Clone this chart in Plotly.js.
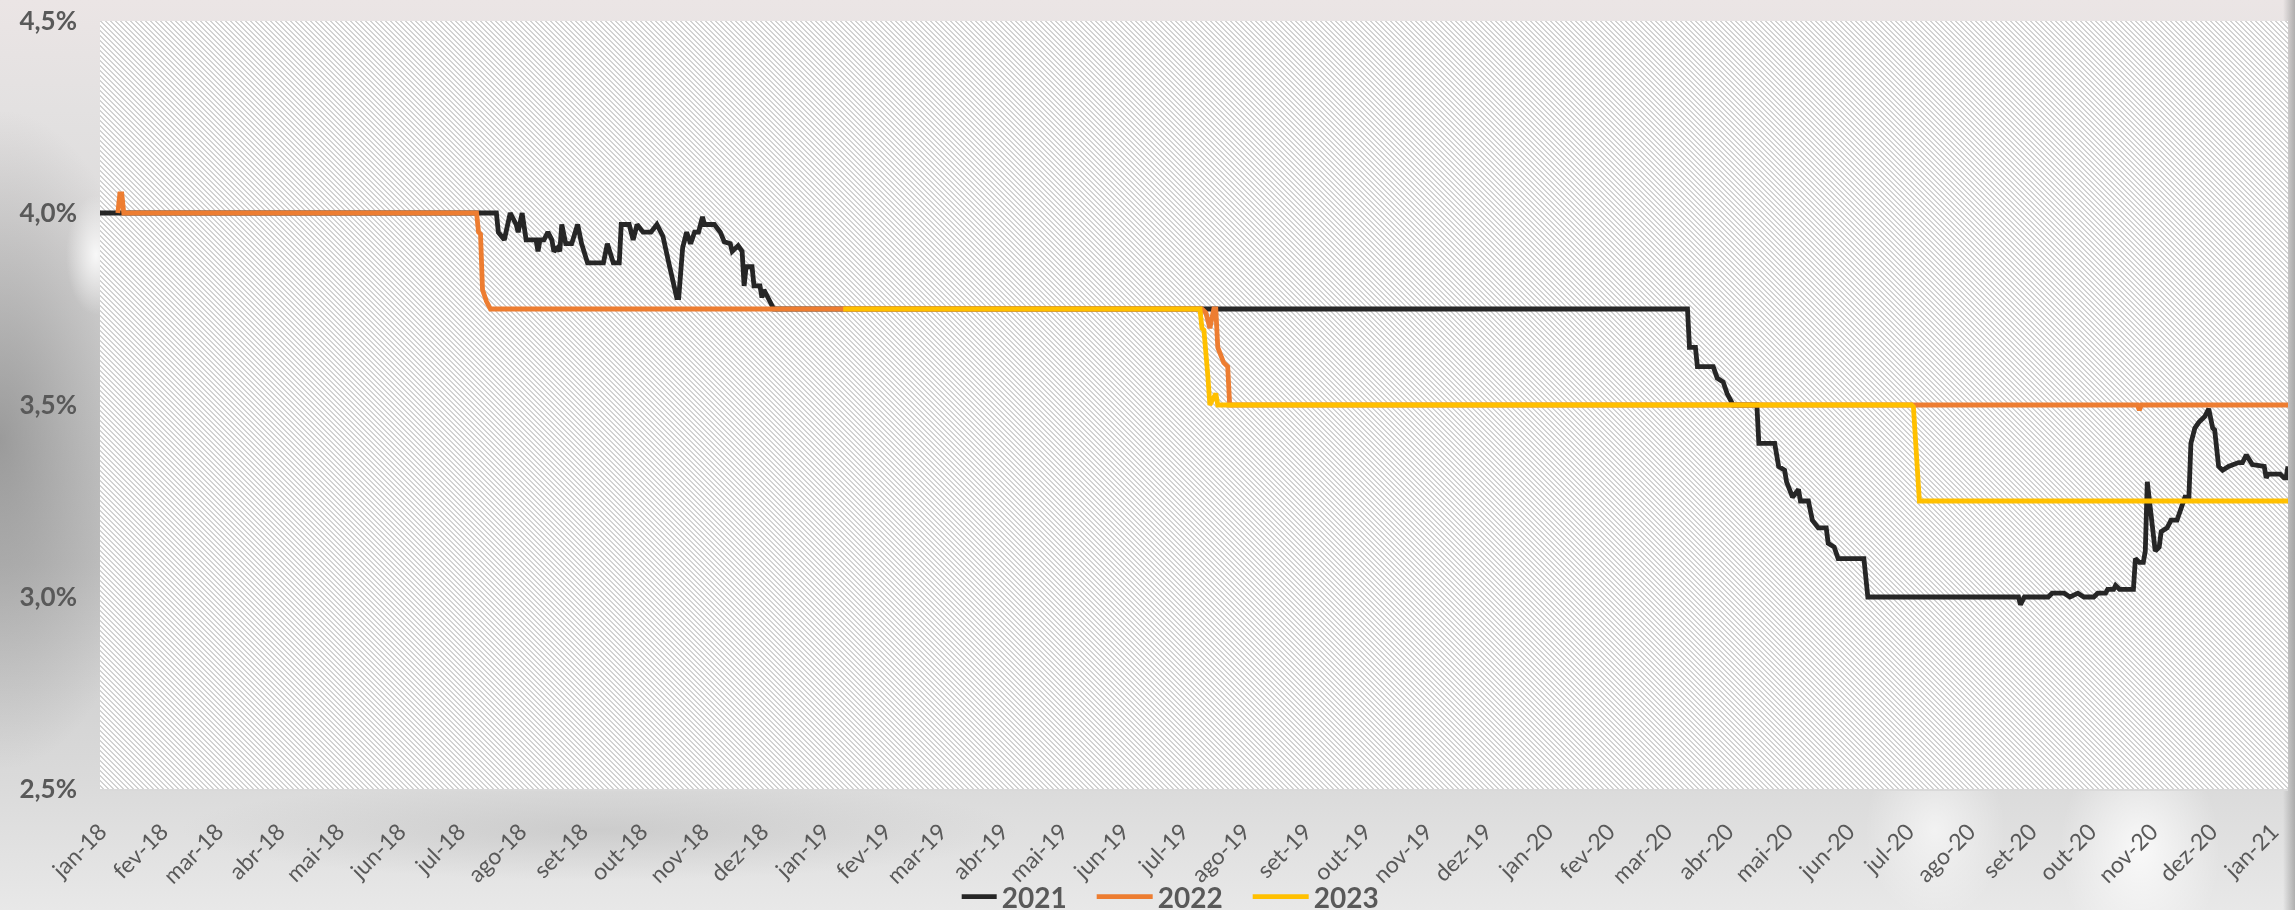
<!DOCTYPE html>
<html>
<head>
<meta charset="utf-8">
<script src="https://cdn.plot.ly/plotly-3.0.1.min.js"></script>
<style>
  html, body { margin:0; padding:0; }
  #wrap {
    position: relative; width: 2295px; height: 910px; overflow: hidden;
    background:
      radial-gradient(ellipse 30px 60px at 96px 255px, rgba(255,255,255,0.85), rgba(255,255,255,0) 100%),
      radial-gradient(ellipse 160px 330px at 0px 440px, rgba(110,110,110,0.55), rgba(110,110,110,0) 100%),
      radial-gradient(ellipse 420px 50px at 600px 830px, rgba(160,160,160,0.3), rgba(160,160,160,0) 100%),
      radial-gradient(ellipse 80px 110px at 2140px 850px, rgba(255,255,255,0.8), rgba(255,255,255,0) 100%),
      radial-gradient(ellipse 70px 90px at 1935px 830px, rgba(255,255,255,0.6), rgba(255,255,255,0) 100%),
      linear-gradient(to left, rgba(150,150,150,0.7) 0px, rgba(150,150,150,0) 12px),
      linear-gradient(to bottom, #ebe5e5 0%, #e3e1e1 12%, #d3d3d3 45%, #c9c9c9 62%, #dadada 86%, #e8e8e8 100%);
  }
  #hatch { position: absolute; left: 100px; top: 21px; }
  #chart { position: absolute; left: 0; top: 0; }
</style>
</head>
<body>
<div id="wrap">
  <canvas id="hatch" width="2188" height="768"></canvas>
  <div id="chart"></div>
</div>
<script>
// ---- Data ----
const seriesNames = ['2021', '2022', '2023'];

const dates2021 = ['2018-01-01','2018-07-20','2018-07-21','2018-07-24','2018-07-27','2018-07-30','2018-07-31','2018-08-02','2018-08-04','2018-08-09','2018-08-10','2018-08-11','2018-08-13','2018-08-15','2018-08-17','2018-08-18','2018-08-20','2018-08-21','2018-08-22','2018-08-24','2018-08-27','2018-08-30','2018-09-01','2018-09-04','2018-09-12','2018-09-14','2018-09-17','2018-09-20','2018-09-21','2018-09-25','2018-09-27','2018-09-29','2018-10-02','2018-10-06','2018-10-09','2018-10-12','2018-10-15','2018-10-19','2018-10-20','2018-10-22','2018-10-24','2018-10-26','2018-10-28','2018-10-30','2018-11-01','2018-11-02','2018-11-07','2018-11-10','2018-11-12','2018-11-15','2018-11-16','2018-11-19','2018-11-21','2018-11-22','2018-11-23','2018-11-26','2018-11-27','2018-11-30','2018-12-01','2018-12-02','2018-12-04','2018-12-05','2018-12-07','2020-03-12','2020-03-13','2020-03-16','2020-03-17','2020-03-25','2020-03-27','2020-03-30','2020-04-01','2020-04-03','2020-04-04','2020-04-16','2020-04-17','2020-04-25','2020-04-27','2020-04-30','2020-05-01','2020-05-04','2020-05-07','2020-05-08','2020-05-12','2020-05-14','2020-05-17','2020-05-21','2020-05-22','2020-05-25','2020-05-27','2020-06-09','2020-06-11','2020-08-26','2020-08-27','2020-08-29','2020-09-10','2020-09-12','2020-09-18','2020-09-21','2020-09-25','2020-09-28','2020-10-03','2020-10-05','2020-10-09','2020-10-10','2020-10-13','2020-10-14','2020-10-16','2020-10-23','2020-10-24','2020-10-26','2020-10-28','2020-10-29','2020-10-30','2020-11-03','2020-11-05','2020-11-06','2020-11-09','2020-11-11','2020-11-14','2020-11-16','2020-11-18','2020-11-20','2020-11-21','2020-11-23','2020-11-25','2020-11-28','2020-11-30','2020-12-02','2020-12-03','2020-12-05','2020-12-07','2020-12-10','2020-12-15','2020-12-17','2020-12-19','2020-12-22','2020-12-28','2020-12-29','2020-12-30','2021-01-05','2021-01-07','2021-01-08','2021-01-09'];
const values2021 = [4.00,4.00,3.95,3.93,4.00,3.97,3.95,4.00,3.93,3.93,3.90,3.93,3.93,3.95,3.93,3.90,3.91,3.90,3.97,3.92,3.92,3.97,3.92,3.87,3.87,3.92,3.87,3.87,3.97,3.97,3.93,3.97,3.95,3.95,3.97,3.94,3.87,3.78,3.78,3.91,3.95,3.92,3.95,3.95,3.99,3.97,3.97,3.95,3.925,3.92,3.90,3.915,3.90,3.81,3.86,3.86,3.81,3.81,3.78,3.80,3.78,3.77,3.75,3.75,3.65,3.65,3.60,3.60,3.57,3.56,3.53,3.51,3.50,3.50,3.40,3.40,3.34,3.33,3.30,3.26,3.28,3.25,3.25,3.20,3.18,3.18,3.14,3.13,3.10,3.10,3.00,3.00,2.98,3.00,3.00,3.01,3.01,3.00,3.01,3.00,3.00,3.01,3.01,3.02,3.02,3.03,3.02,3.02,3.10,3.09,3.09,3.12,3.30,3.12,3.13,3.17,3.18,3.20,3.20,3.23,3.26,3.26,3.40,3.44,3.455,3.47,3.49,3.44,3.435,3.34,3.33,3.34,3.35,3.35,3.37,3.345,3.34,3.31,3.32,3.32,3.31,3.31,3.34];

const dates2022 = ['2018-01-10','2018-01-11','2018-01-12','2018-01-13','2018-07-10','2018-07-11','2018-07-12','2018-07-13','2018-07-15','2018-07-17','2019-07-11','2019-07-13','2019-07-15','2019-07-17','2019-07-18','2019-07-19','2019-07-22','2019-07-24','2019-07-25','2020-10-25','2020-10-26','2020-10-27','2021-01-09'];
const values2022 = [4.00,4.05,4.05,4.00,4.00,3.95,3.945,3.80,3.77,3.75,3.75,3.74,3.70,3.75,3.75,3.65,3.61,3.60,3.50,3.50,3.487,3.50,3.50];

const dates2023 = ['2019-01-11','2019-07-10','2019-07-11','2019-07-12','2019-07-14','2019-07-15','2019-07-18','2019-07-19','2020-07-03','2020-07-04','2020-07-07','2021-01-09'];
const values2023 = [3.75,3.75,3.70,3.695,3.575,3.50,3.53,3.50,3.50,3.495,3.25,3.25];

const tickDates = ['2018-01-01','2018-02-01','2018-03-01','2018-04-01','2018-05-01','2018-06-01','2018-07-01','2018-08-01','2018-09-01','2018-10-01','2018-11-01','2018-12-01','2019-01-01','2019-02-01','2019-03-01','2019-04-01','2019-05-01','2019-06-01','2019-07-01','2019-08-01','2019-09-01','2019-10-01','2019-11-01','2019-12-01','2020-01-01','2020-02-01','2020-03-01','2020-04-01','2020-05-01','2020-06-01','2020-07-01','2020-08-01','2020-09-01','2020-10-01','2020-11-01','2020-12-01','2021-01-01'];
const tickLabels = ['jan-18','fev-18','mar-18','abr-18','mai-18','jun-18','jul-18','ago-18','set-18','out-18','nov-18','dez-18','jan-19','fev-19','mar-19','abr-19','mai-19','jun-19','jul-19','ago-19','set-19','out-19','nov-19','dez-19','jan-20','fev-20','mar-20','abr-20','mai-20','jun-20','jul-20','ago-20','set-20','out-20','nov-20','dez-20','jan-21'];

const yTicks = [2.5, 3.0, 3.5, 4.0, 4.5];
const yLabels = ['2,5%', '3,0%', '3,5%', '4,0%', '4,5%'];

const colors = ['#262626', '#ED7D31', '#FFC000'];

// ---- Hatched plot-area background (decoration) ----
(function () {
  const cv = document.getElementById('hatch');
  const ctx = cv.getContext('2d');
  const W = cv.width, H = cv.height;
  const img = ctx.createImageData(W, H);
  for (let y = 0; y < H; y++) {
    for (let x = 0; x < W; x++) {
      const k = (((x - y) % 5) + 5) % 5;
      const v = k < 2 ? 210 : 255;
      const i = (y * W + x) * 4;
      img.data[i] = v; img.data[i + 1] = v; img.data[i + 2] = v; img.data[i + 3] = 255;
    }
  }
  ctx.putImageData(img, 0, 0);
})();

// ---- Chart ----
const xs = [dates2021, dates2022, dates2023];
const ys = [values2021, values2022, values2023];
const traces = seriesNames.map((n, i) => ({
  type: 'scatter', mode: 'lines', name: n,
  x: xs[i], y: ys[i],
  line: { color: colors[i], width: 4.8 },
  hoverinfo: 'skip'
}));

const layout = {
  width: 2295, height: 910,
  margin: { l: 100, r: 7, t: 21, b: 121, pad: 0, autoexpand: false },
  paper_bgcolor: 'rgba(0,0,0,0)',
  plot_bgcolor: 'rgba(0,0,0,0)',
  font: { family: 'Lato, "Open Sans", sans-serif', color: '#595959' },
  showlegend: true,
  legend: {
    orientation: 'h', xref: 'container', yref: 'paper',
    x: 0.521, xanchor: 'center', y: -0.1406, yanchor: 'middle',
    font: { size: 28, color: '#595959', family: 'Lato, sans-serif', weight: 'bold' },
    bgcolor: 'rgba(0,0,0,0)', entrywidth: 111, entrywidthmode: 'pixels',
    borderwidth: 0
  },
  xaxis: {
    type: 'date',
    range: ['2018-01-01', '2021-01-09'],
    tickmode: 'array', tickvals: tickDates, ticktext: tickLabels,
    tickangle: -45,
    tickfont: { size: 23, color: '#595959' },
    ticks: '', showgrid: false, zeroline: false,
    showline: true, linecolor: '#d9d9d9', linewidth: 2,
    ticklabelstandoff: 18
  },
  yaxis: {
    range: [2.5, 4.5],
    tickmode: 'array', tickvals: yTicks, ticktext: yLabels,
    tickfont: { size: 26, color: '#595959', weight: 'bold' },
    ticks: '', showgrid: false, zeroline: false, showline: false,
    ticklabelstandoff: 22
  }
};

Plotly.newPlot('chart', traces, layout, { displayModeBar: false, staticPlot: true }).then(function (gd) {
  // longer legend line samples, like the original
  gd.querySelectorAll('.legend .legendlines path').forEach(function (p) {
    p.setAttribute('d', 'M-21,0h56');
  });
});
</script>
</body>
</html>
